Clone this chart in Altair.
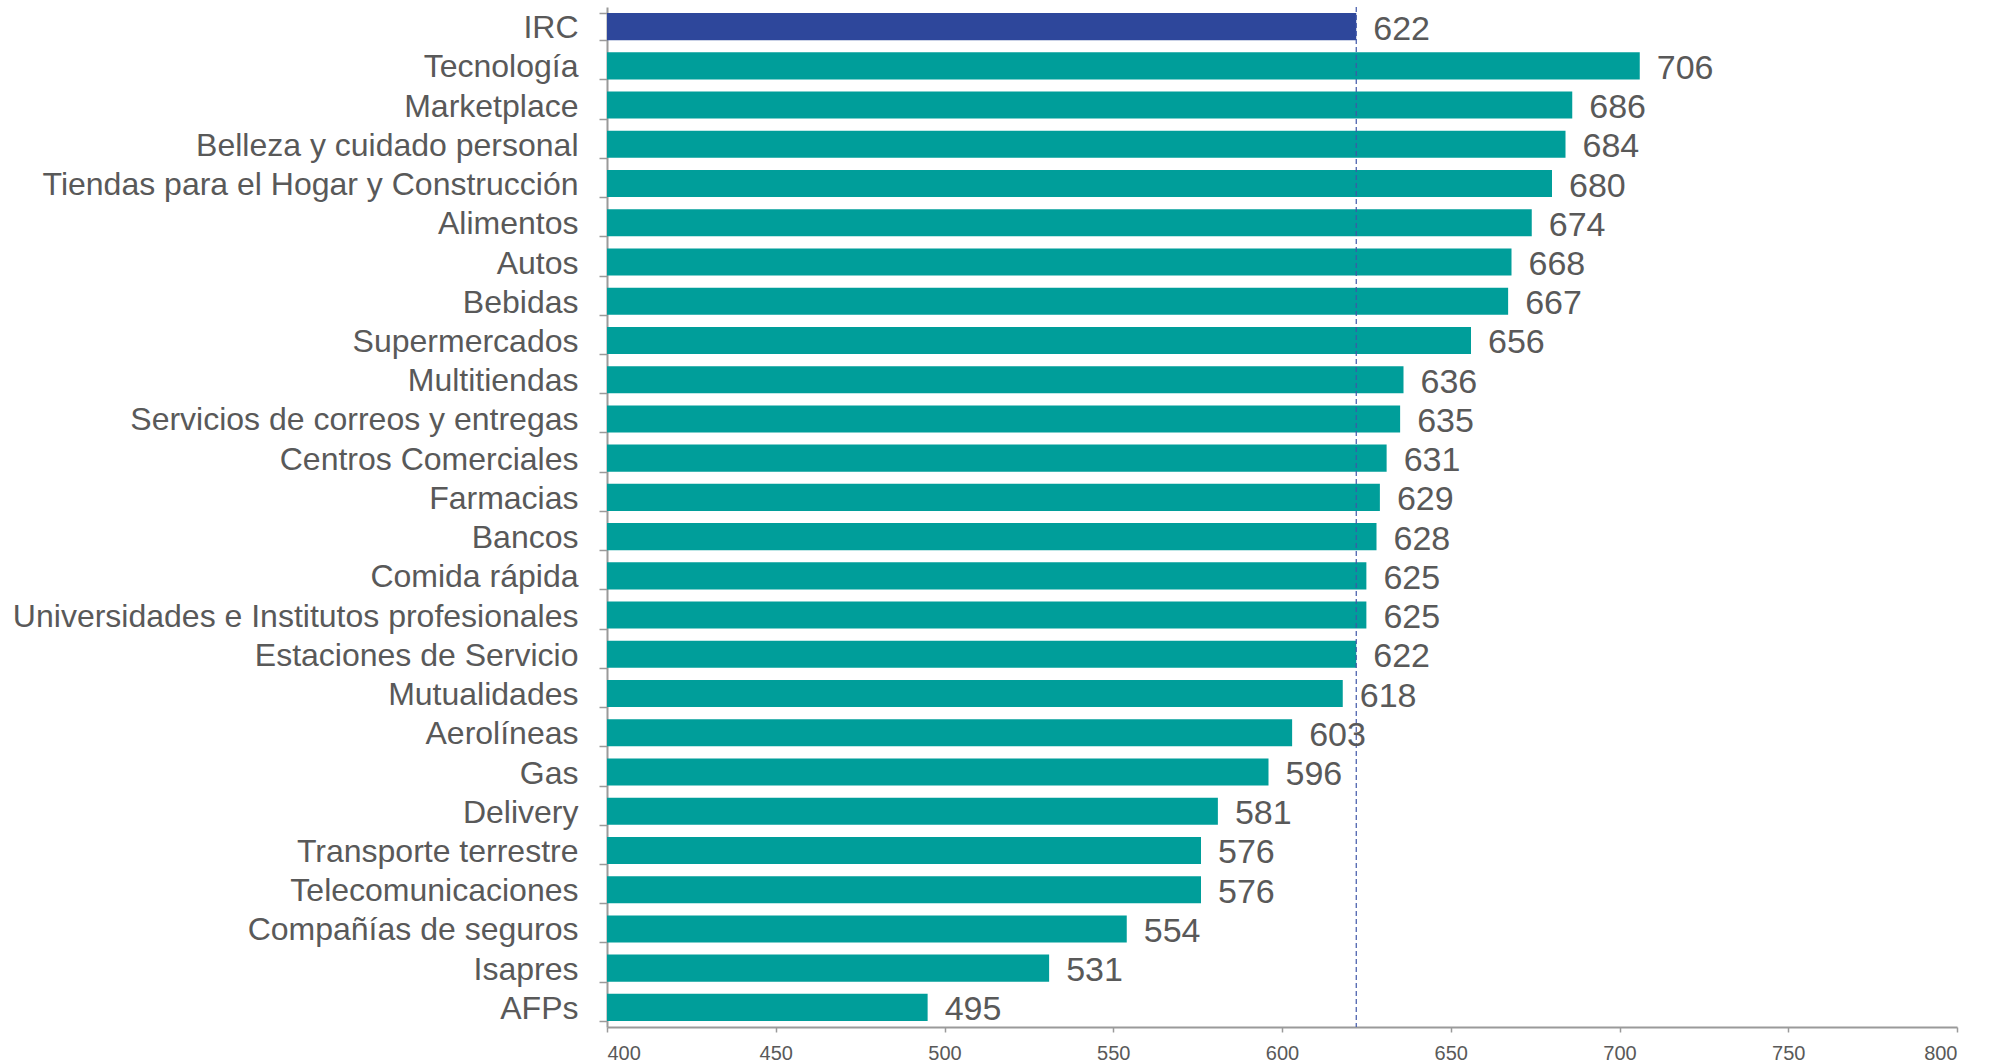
import altair as alt
import pandas as pd

categories = [
    "IRC", "Tecnología", "Marketplace", "Belleza y cuidado personal",
    "Tiendas para el Hogar y Construcción", "Alimentos", "Autos", "Bebidas",
    "Supermercados", "Multitiendas", "Servicios de correos y entregas",
    "Centros Comerciales", "Farmacias", "Bancos", "Comida rápida",
    "Universidades e Institutos profesionales", "Estaciones de Servicio",
    "Mutualidades", "Aerolíneas", "Gas", "Delivery", "Transporte terrestre",
    "Telecomunicaciones", "Compañías de seguros", "Isapres", "AFPs",
]
values = [622, 706, 686, 684, 680, 674, 668, 667, 656, 636, 635, 631, 629,
          628, 625, 625, 622, 618, 603, 596, 581, 576, 576, 554, 531, 495]
irc_value = [622]
x_ticks = [400, 450, 500, 550, 600, 650, 700, 750, 800]

df = pd.DataFrame({"cat": categories, "val": values})
df_irc = pd.DataFrame({"irc": irc_value})

FONT = "Liberation Sans"
GREY = "#595959"
AXIS = "#9a9a9a"

y_enc = alt.Y(
    "cat:N", sort=categories, title=None,
    scale=alt.Scale(paddingInner=0.31, paddingOuter=0.155),
    axis=alt.Axis(tickBand="extent", tickSize=8, tickColor=AXIS, tickWidth=1.5,
                  domainColor=AXIS, domainWidth=2, labelFont=FONT,
                  labelFontSize=32, labelColor=GREY, labelPadding=21,
                  labelLimit=0, grid=False, labelOffset=1),
)
x_scale = alt.Scale(domain=[400, 800], nice=False, zero=False)
x_enc = alt.X(
    "val:Q", scale=x_scale, title=None,
    axis=alt.Axis(values=x_ticks, tickSize=5, tickColor=AXIS, tickWidth=1.5,
                  domainColor=AXIS, domainWidth=2, labelFont=FONT,
                  labelFontSize=20, labelColor=GREY, labelPadding=11,
                  grid=False),
)

base = alt.Chart(df)

bars = base.mark_bar().encode(
    y=y_enc,
    x=x_enc,
    x2=alt.datum(400),
    color=alt.condition(alt.datum.cat == "IRC", alt.value("#2E479B"),
                        alt.value("#009E9A")),
)

labels = base.mark_text(align="left", baseline="middle", dx=17, dy=3,
                        fontSize=34, font=FONT, color=GREY).encode(
    y=alt.Y("cat:N", sort=categories),
    x=alt.X("val:Q", scale=x_scale),
    text=alt.Text("val:Q"),
)

rule = alt.Chart(df_irc).mark_rule(color="#3F56A8", strokeWidth=1.2,
                                   strokeDash=[5, 3]).encode(
    x=alt.X("irc:Q", scale=x_scale),
)

chart = alt.layer(bars, rule, labels).properties(
    width=1350, height=1020,
    padding={"left": 607, "top": 7, "right": 36, "bottom": 35},
    autosize="none",
    background="white",
).configure_view(strokeWidth=0, stroke="transparent")

chart.save("out.html", embed_options={"renderer": "svg", "actions": False})
